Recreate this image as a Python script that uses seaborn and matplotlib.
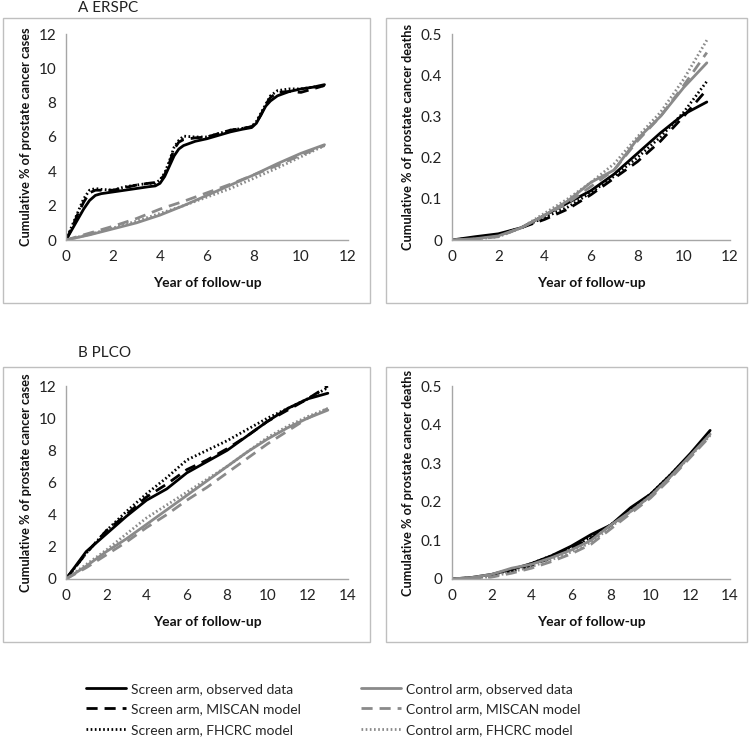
import matplotlib
matplotlib.use("Agg")
import matplotlib.pyplot as plt
import seaborn as sns
import numpy as np
import pandas as pd
from matplotlib.patches import Rectangle
from matplotlib.ticker import FuncFormatter

# ---------------- data ----------------
# Panel A ERSPC - cases
a_cases_scr_x = [0, 0.25, 0.5, 0.75, 1.0, 1.25, 1.5, 2, 2.5, 3, 3.5, 3.8, 4.0, 4.2, 4.4, 4.6, 4.8, 5.0,
                 5.5, 6, 6.5, 7, 7.5, 7.9, 8.1, 8.3, 8.5, 8.7, 9, 9.5, 10, 10.5, 11]
a_cases_scr_obs = [0, 0.6, 1.2, 1.8, 2.3, 2.6, 2.7, 2.8, 2.9, 3.0, 3.1, 3.15, 3.3, 3.7, 4.3, 4.9, 5.3, 5.5,
                   5.75, 5.9, 6.1, 6.3, 6.45, 6.55, 6.8, 7.3, 7.8, 8.1, 8.4, 8.65, 8.8, 8.9, 9.05]
a_cases_scr_miscan = [0, 0.7, 1.5, 2.2, 2.75, 2.9, 2.9, 2.9, 3.05, 3.2, 3.3, 3.35, 3.5, 3.8, 4.5, 5.3, 5.7, 5.85,
                      5.95, 6.0, 6.2, 6.4, 6.5, 6.6, 6.85, 7.3, 7.9, 8.3, 8.6, 8.65, 8.6, 8.8, 9.0]
a_cases_scr_fhcrc = [0, 0.8, 1.6, 2.4, 2.9, 3.0, 2.95, 2.9, 3.1, 3.2, 3.3, 3.3, 3.5, 3.9, 4.6, 5.4, 5.8, 6.05,
                     6.0, 6.0, 6.2, 6.4, 6.5, 6.6, 6.9, 7.4, 7.9, 8.4, 8.7, 8.8, 8.8, 8.9, 9.0]
a_cases_ctl_x = [0, 1, 2, 3, 4, 5, 6, 7, 8, 9, 10, 11]
a_cases_ctl_obs = [0, 0.3, 0.65, 1.0, 1.45, 2.0, 2.6, 3.2, 3.8, 4.45, 5.05, 5.55]
a_cases_ctl_miscan = [0, 0.4, 0.8, 1.25, 1.8, 2.25, 2.75, 3.25, 3.8, 4.35, 4.95, 5.5]
a_cases_ctl_fhcrc = [0, 0.33, 0.7, 1.1, 1.55, 2.0, 2.5, 3.0, 3.6, 4.2, 4.85, 5.5]

# Panel A ERSPC - deaths
a_deaths_x = [0, 1, 2, 3, 4, 5, 6, 7, 8, 9, 10, 11]
a_deaths_scr_obs = [0, 0.008, 0.015, 0.03, 0.06, 0.09, 0.12, 0.16, 0.21, 0.26, 0.305, 0.335]
a_deaths_scr_miscan = [0, 0.004, 0.01, 0.03, 0.05, 0.075, 0.11, 0.15, 0.19, 0.24, 0.30, 0.365]
a_deaths_scr_fhcrc = [0, 0.005, 0.012, 0.03, 0.055, 0.08, 0.115, 0.155, 0.20, 0.25, 0.31, 0.385]
a_deaths_ctl_obs = [0, 0.003, 0.01, 0.03, 0.06, 0.095, 0.14, 0.17, 0.245, 0.30, 0.37, 0.43]
a_deaths_ctl_miscan = [0, 0.002, 0.008, 0.03, 0.06, 0.09, 0.13, 0.17, 0.24, 0.30, 0.375, 0.455]
a_deaths_ctl_fhcrc = [0, 0.002, 0.008, 0.03, 0.065, 0.10, 0.14, 0.185, 0.25, 0.31, 0.39, 0.485]

# Panel B PLCO - cases
b_x = [0, 1, 2, 3, 4, 5, 6, 7, 8, 9, 10, 11, 12, 13]
b_cases_scr_obs = [0, 1.7, 2.8, 3.9, 4.9, 5.6, 6.6, 7.3, 8.0, 8.9, 9.8, 10.6, 11.2, 11.55]
b_cases_scr_miscan = [0, 1.6, 3.0, 4.0, 5.1, 5.9, 6.8, 7.4, 8.1, 8.9, 9.8, 10.5, 11.2, 12.0]
b_cases_scr_fhcrc = [0, 1.6, 3.0, 4.2, 5.3, 6.3, 7.4, 8.0, 8.6, 9.3, 10.0, 10.6, 11.2, 11.9]
b_cases_ctl_obs = [0, 0.8, 1.7, 2.5, 3.4, 4.3, 5.2, 6.1, 7.0, 7.9, 8.7, 9.4, 10.0, 10.5]
b_cases_ctl_miscan = [0, 0.7, 1.5, 2.3, 3.2, 4.0, 4.9, 5.7, 6.6, 7.5, 8.4, 9.2, 10.0, 10.6]
b_cases_ctl_fhcrc = [0, 0.9, 1.8, 2.8, 3.8, 4.6, 5.4, 6.2, 7.0, 7.9, 8.8, 9.5, 10.1, 10.6]

# Panel B PLCO - deaths
b_deaths_scr_obs = [0, 0.004, 0.012, 0.025, 0.04, 0.06, 0.085, 0.115, 0.14, 0.185, 0.22, 0.27, 0.325, 0.385]
b_deaths_scr_miscan = [0, 0.003, 0.008, 0.02, 0.035, 0.055, 0.08, 0.105, 0.14, 0.18, 0.215, 0.265, 0.32, 0.38]
b_deaths_scr_fhcrc = [0, 0.003, 0.01, 0.022, 0.04, 0.06, 0.082, 0.108, 0.14, 0.18, 0.22, 0.27, 0.322, 0.382]
b_deaths_ctl_obs = [0, 0.004, 0.012, 0.028, 0.038, 0.055, 0.075, 0.10, 0.14, 0.175, 0.215, 0.265, 0.32, 0.375]
b_deaths_ctl_miscan = [0, 0.002, 0.005, 0.015, 0.028, 0.045, 0.065, 0.09, 0.13, 0.17, 0.21, 0.26, 0.315, 0.37]
b_deaths_ctl_fhcrc = [0, 0.002, 0.006, 0.018, 0.032, 0.05, 0.07, 0.095, 0.135, 0.175, 0.215, 0.265, 0.318, 0.372]

series_labels = ["Screen arm, observed data", "Screen arm, MISCAN model", "Screen arm, FHCRC model",
                 "Control arm, observed data", "Control arm, MISCAN model", "Control arm, FHCRC model"]
panel_titles = ["A ERSPC", "B PLCO"]
ylabel_cases = "Cumulative % of prostate cancer cases"
ylabel_deaths = "Cumulative % of prostate cancer deaths"
xlabel_text = "Year of follow-up"

# ---------------- style ----------------
sns.set_style("white")
plt.rcParams['font.family'] = ['Lato', 'DejaVu Sans']

BLACK = "#000000"
GRAY = "#8a8a8a"
SPINE = "#a6a6a6"
LW = 2.0
styles = [
    dict(color=BLACK, linestyle='-'),
    dict(color=BLACK, linestyle=(0, (4, 2.5))),
    dict(color=BLACK, linestyle=(0, (0.6, 0.9))),
    dict(color=GRAY, linestyle='-'),
    dict(color=GRAY, linestyle=(0, (4, 2.5))),
    dict(color=GRAY, linestyle=(0, (0.6, 0.9))),
]

W, H = 750, 740
fig = plt.figure(figsize=(W / 100, H / 100), dpi=100)

def px_axes(x0, x1, ytop, ybot):
    return fig.add_axes([x0 / W, 1 - ybot / H, (x1 - x0) / W, (ybot - ytop) / H])

ax_a1 = px_axes(66, 348, 34, 240)
ax_a2 = px_axes(452, 730, 34, 240)
ax_b1 = px_axes(66, 348, 386, 579)
ax_b2 = px_axes(452, 730, 386, 579)

# panel boxes
for (x0, y0, x1, y1) in [(3, 18, 370, 303), (386, 18, 747, 303), (3, 367, 370, 642), (386, 367, 747, 642)]:
    fig.patches.append(Rectangle((x0 / W, 1 - y1 / H), (x1 - x0) / W, (y1 - y0) / H,
                                 transform=fig.transFigure, fill=False, edgecolor="#bfbfbf", lw=1.0))

def draw(ax, xs_list, ys_list):
    for i, (xs, ys) in enumerate(zip(xs_list, ys_list)):
        sns.lineplot(x=xs, y=ys, ax=ax, lw=LW, label=series_labels[i], legend=False,
                     sort=False, estimator=None, **styles[i])

draw(ax_a1, [a_cases_scr_x] * 3 + [a_cases_ctl_x] * 3,
     [a_cases_scr_obs, a_cases_scr_miscan, a_cases_scr_fhcrc,
      a_cases_ctl_obs, a_cases_ctl_miscan, a_cases_ctl_fhcrc])
draw(ax_a2, [a_deaths_x] * 6,
     [a_deaths_scr_obs, a_deaths_scr_miscan, a_deaths_scr_fhcrc,
      a_deaths_ctl_obs, a_deaths_ctl_miscan, a_deaths_ctl_fhcrc])
draw(ax_b1, [b_x] * 6,
     [b_cases_scr_obs, b_cases_scr_miscan, b_cases_scr_fhcrc,
      b_cases_ctl_obs, b_cases_ctl_miscan, b_cases_ctl_fhcrc])
draw(ax_b2, [b_x] * 6,
     [b_deaths_scr_obs, b_deaths_scr_miscan, b_deaths_scr_fhcrc,
      b_deaths_ctl_obs, b_deaths_ctl_miscan, b_deaths_ctl_fhcrc])

fmt = FuncFormatter(lambda v, p: f"{v:g}")
for ax, xmax, ymax, ystep, ylab, ylx, xly in [
        (ax_a1, 12, 12, 2, ylabel_cases, -0.12, -0.18),
        (ax_a2, 12, 0.5, 0.1, ylabel_deaths, -0.137, -0.18),
        (ax_b1, 14, 12, 2, ylabel_cases, -0.12, -0.19),
        (ax_b2, 14, 0.5, 0.1, ylabel_deaths, -0.137, -0.19)]:
    ax.set_xlim(0, xmax)
    ax.set_ylim(0, ymax)
    ax.set_xticks(np.arange(0, xmax + 0.01, 2))
    ax.set_yticks(np.round(np.arange(0, ymax + ystep / 2, ystep), 2))
    ax.xaxis.set_major_formatter(fmt)
    ax.yaxis.set_major_formatter(fmt)
    for s in ['top', 'right']:
        ax.spines[s].set_visible(False)
    for s in ['left', 'bottom']:
        ax.spines[s].set_color(SPINE)
        ax.spines[s].set_linewidth(1.0)
    ax.tick_params(axis='both', which='major', direction='out', length=4, width=1,
                   color=SPINE, labelsize=11, labelcolor="#222222", pad=3)
    ax.set_ylabel(ylab, fontsize=9.2, fontweight='bold', color="#111111")
    ax.set_xlabel(xlabel_text, fontsize=10, fontweight='bold', color="#111111")
    ax.yaxis.set_label_coords(ylx, 0.5)
    ax.xaxis.set_label_coords(0.5, xly)
    ax.set_facecolor('none')

fig.text(78 / W, 1 - 8 / H, panel_titles[0], fontsize=11, va='center', ha='left', color="#222222")
fig.text(78 / W, 1 - 353 / H, panel_titles[1], fontsize=11, va='center', ha='left', color="#222222")

handles, labels = ax_a1.get_legend_handles_labels()
fig.legend(handles, labels, loc='upper left', bbox_to_anchor=(86 / W, 1 - 683 / H), ncol=2,
           frameon=False, fontsize=10, handlelength=2.9, handletextpad=0.35,
           columnspacing=4.3, borderpad=0, borderaxespad=0, labelspacing=0.6)

fig.savefig("out.png", dpi=100)
